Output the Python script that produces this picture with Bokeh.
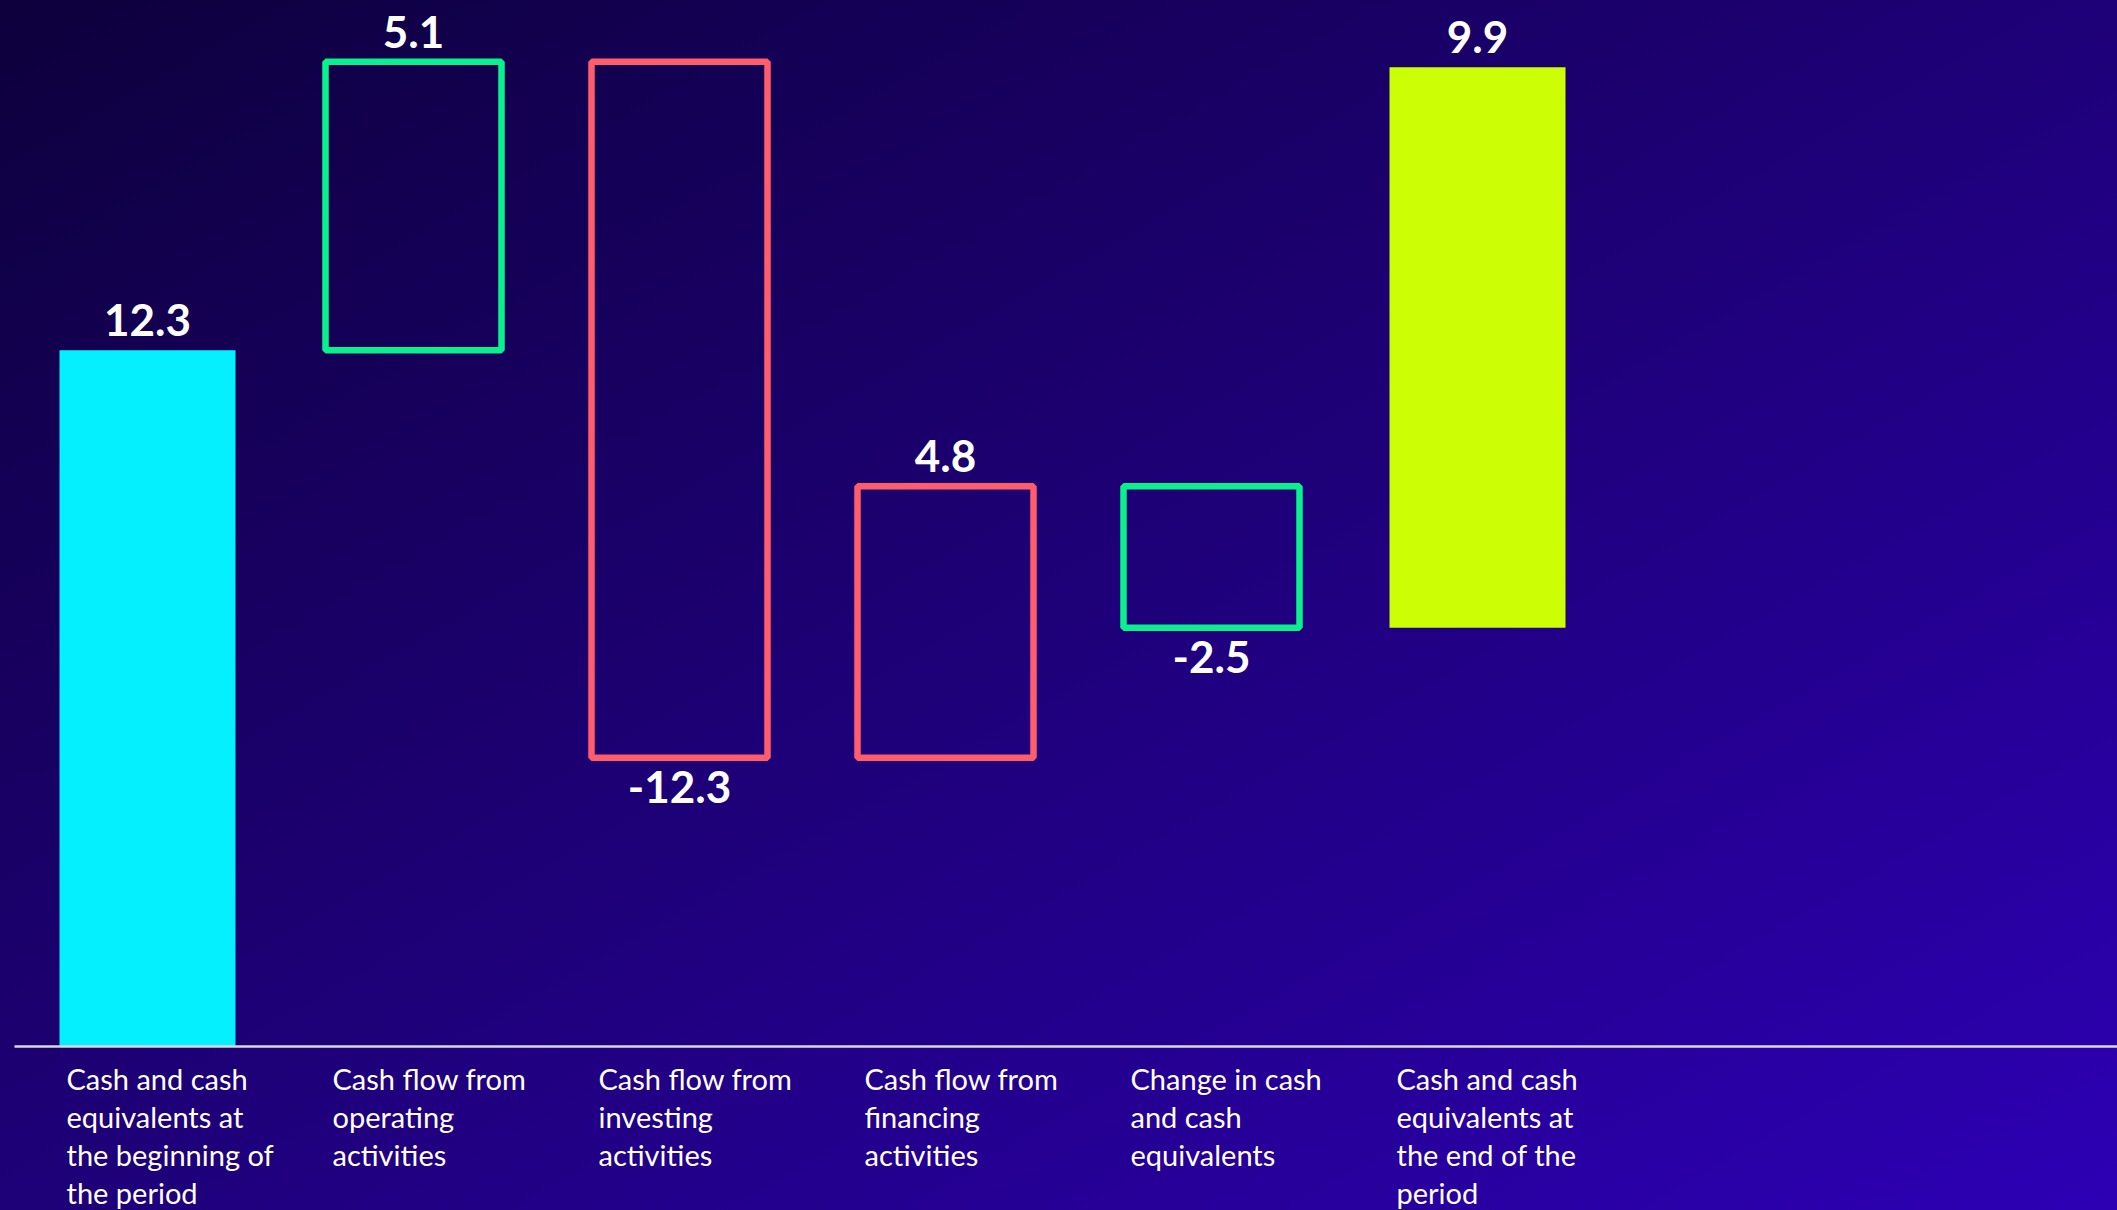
from bokeh.plotting import figure
from bokeh.models import ColumnDataSource, Range1d, GlobalInlineStyleSheet
from bokeh.core.properties import value
from bokeh.embed import file_html
from bokeh.resources import INLINE

# ---- data ----
categories = [
    "Cash and cash\nequivalents at\nthe beginning of\nthe period",
    "Cash flow from\noperating\nactivities",
    "Cash flow from\ninvesting\nactivities",
    "Cash flow from\nfinancing\nactivities",
    "Change in cash\nand cash\nequivalents",
    "Cash and cash\nequivalents at\nthe end of the\nperiod",
]
values = [12.3, 5.1, -12.3, 4.8, -2.5, 9.9]
bar_styles = ["fill", "outline", "outline", "outline", "outline", "fill"]
bar_colors = ["#05F0FF", "#0AF08C", "#FF5C6C", "#FF5C6C", "#0AF08C", "#CCFF05"]

# ---- derived geometry (cumulative chain) ----
xs = [i + 0.5 for i in range(len(values))]
cum = []
run = 0.0
for v in values:
    run += v
    cum.append(round(run, 2))
bottoms = [min(c - v, c) for c, v in zip(cum, values)]
tops = [max(c - v, c) for c, v in zip(cum, values)]

W, H = 2117, 1210
slot_px = 266.0
px_per_unit = 56.6
x0_px = 14.0
base_px = 1046.0

x_start = -x0_px / slot_px
x_end = (W - x0_px) / slot_px
y_end = base_px / px_per_unit
y_start = -(H - base_px) / px_per_unit

bg_css = GlobalInlineStyleSheet(css="""
html { margin: 0; padding: 0; min-height: 100%; overflow: hidden;
       background: linear-gradient(to bottom right, #0d003c 0%, #1e0078 50%, #2d00b4 100%) fixed; }
body { margin: 0; padding: 0; background: transparent; }
""")

p = figure(width=W, height=H, output_backend="svg", toolbar_location=None,
           x_range=Range1d(x_start, x_end), y_range=Range1d(y_start, y_end),
           min_border=0, min_border_left=0, min_border_right=0,
           min_border_top=0, min_border_bottom=0)
p.stylesheets = [bg_css]
p.background_fill_alpha = 0
p.border_fill_alpha = 0
p.outline_line_color = None
p.xaxis.visible = False
p.yaxis.visible = False
p.xgrid.visible = False
p.ygrid.visible = False

fill_idx = [i for i, s in enumerate(bar_styles) if s == "fill"]
out_idx = [i for i, s in enumerate(bar_styles) if s == "outline"]

bar_w = 176.0 / slot_px

src_fill = ColumnDataSource(dict(
    x=[xs[i] for i in fill_idx], bottom=[bottoms[i] for i in fill_idx],
    top=[tops[i] for i in fill_idx], color=[bar_colors[i] for i in fill_idx]))
p.vbar(x="x", bottom="bottom", top="top", width=bar_w, source=src_fill,
       fill_color="color", line_color=None)

src_out = ColumnDataSource(dict(
    x=[xs[i] for i in out_idx], bottom=[bottoms[i] for i in out_idx],
    top=[tops[i] for i in out_idx], color=[bar_colors[i] for i in out_idx]))
p.vbar(x="x", bottom="bottom", top="top", width=bar_w, source=src_out,
       fill_color=None, line_color="color", line_width=6.5)

# baseline
p.segment(x0=[0], y0=[0], x1=[x_end], y1=[0], line_color="#d9d9d9", line_width=2.5)

# value labels
pos = [i for i, v in enumerate(values) if v >= 0]
neg = [i for i, v in enumerate(values) if v < 0]
src_pos = ColumnDataSource(dict(x=[xs[i] for i in pos], y=[tops[i] for i in pos],
                                t=[f"{values[i]:.1f}" for i in pos]))
p.text(x="x", y="y", text="t", source=src_pos, text_align="center",
       text_baseline="alphabetic", y_offset=-30, text_color="white",
       text_font=value("Lato"), text_font_style="bold", text_font_size="44px")
src_neg = ColumnDataSource(dict(x=[xs[i] for i in neg], y=[bottoms[i] for i in neg],
                                t=[f"{values[i]:.1f}" for i in neg]))
p.text(x="x", y="y", text="t", source=src_neg, text_align="center",
       text_baseline="top", y_offset=13, text_color="white",
       text_font=value("Lato"), text_font_style="bold", text_font_size="44px")

# category labels
src_cat = ColumnDataSource(dict(x=xs, y=[0] * len(xs), t=categories))
p.text(x="x", y="y", text="t", source=src_cat, text_align="left",
       text_baseline="top", x_offset=-81, y_offset=14, text_color="white",
       text_font=value("Lato"), text_font_size="29px", text_line_height=1.09)

open("out.html", "w").write(file_html(p, INLINE))
